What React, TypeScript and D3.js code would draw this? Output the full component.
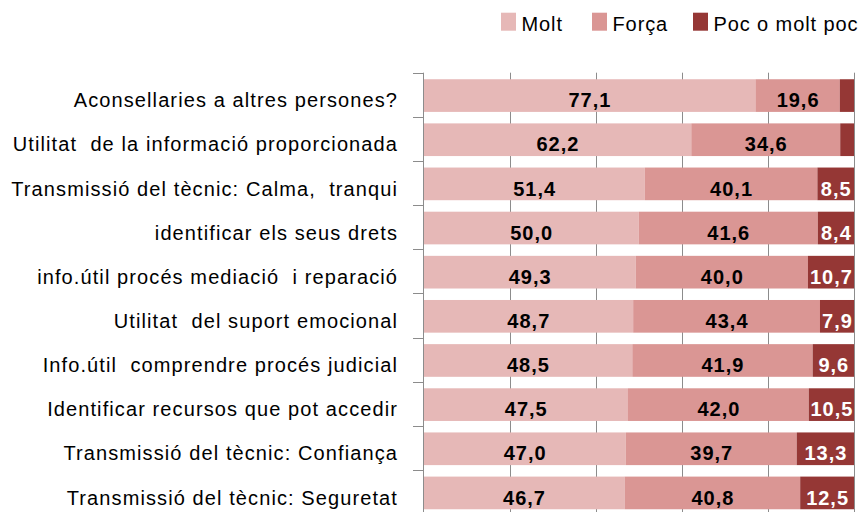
import React from "react";
import * as d3 from "d3";

const categories = [
  "Aconsellaries a altres persones?",
  "Utilitat  de la informació proporcionada",
  "Transmissió del tècnic: Calma,  tranqui",
  "identificar els seus drets",
  "info.útil procés mediació  i reparació",
  "Utilitat  del suport emocional",
  "Info.útil  comprendre procés judicial",
  "Identificar recursos que pot accedir",
  "Transmissió del tècnic: Confiança",
  "Transmissió del tècnic: Seguretat",
];
const molt = [77.1, 62.2, 51.4, 50.0, 49.3, 48.7, 48.5, 47.5, 47.0, 46.7];
const forca = [19.6, 34.6, 40.1, 41.6, 40.0, 43.4, 41.9, 42.0, 39.7, 40.8];
const poc = [3.3, 3.2, 8.5, 8.4, 10.7, 7.9, 9.6, 10.5, 13.3, 12.5];
const seriesNames = ["Molt", "Força", "Poc o molt poc"];
const seriesColors = ["#E6B8B7", "#DA9694", "#953735"];
const labelColors = ["#000000", "#000000", "#FFFFFF"];
const xTicks = [0, 20, 40, 60, 80, 100];

const W = 863;
const H = 512;
const FONT = "'Liberation Sans', Arial, sans-serif";

export default function App() {
  const x = d3.scaleLinear().domain([0, 100]).range([423.5, 854]);
  const step = 44.15;
  const top = 72.7;
  const y = d3
    .scaleBand<string>()
    .domain(categories)
    .range([top + 0.8, top + 0.8 + step * categories.length])
    .paddingInner(0.26)
    .paddingOuter(0.13);

  const series = [molt, forca, poc];
  const stackData = categories.map((c, i) => ({ cat: c, s0: molt[i], s1: forca[i], s2: poc[i] }));
  const stacked = d3.stack<any>().keys(["s0", "s1", "s2"])(stackData);
  const fmt = (v: number) => d3.format(".1f")(v).replace(".", ",");
  const bottom = top + step * categories.length;
  const boundaries = d3.range(categories.length + 1).map((i) => top + i * step);

  const legendX = [501, 592, 693];

  return (
    <svg
      width={W}
      height={H}
      style={{ position: "absolute", left: 0, top: 0, background: "#fff" }}
      fontFamily={FONT}
    >
      {/* gridlines */}
      {xTicks.slice(1).map((t) => (
        <line key={t} x1={Math.round(x(t)) + 0.5} x2={Math.round(x(t)) + 0.5} y1={top} y2={bottom} stroke="#8c8c8c" strokeWidth={1} />
      ))}
      {/* bars */}
      {stacked.map((layer, si) =>
        layer.map((d, i) => (
          <rect
            key={si + "-" + i}
            x={x(d[0])}
            width={x(d[1]) - x(d[0])}
            y={y(categories[i])}
            height={y.bandwidth()}
            fill={seriesColors[si]}
          />
        ))
      )}
      {/* value labels */}
      {stacked.map((layer, si) =>
        layer.map((d, i) => {
          const v = series[si][i];
          if (v < 5) return null;
          return (
            <text
              key={"l" + si + "-" + i}
              x={(x(d[0]) + x(d[1])) / 2 + 0.5}
              y={top + i * step + 34.5}
              textAnchor="middle"
              fontSize={20}
              fontWeight="bold"
              letterSpacing={1}
              fill={labelColors[si]}
            >
              {fmt(v)}
            </text>
          );
        })
      )}
      {/* left axis */}
      <line x1={423.5} x2={423.5} y1={top} y2={bottom} stroke="#8c8c8c" />
      {boundaries.map((b, i) => (
        <line key={"t" + i} x1={413} x2={423.5} y1={Math.round(b) + 0.5} y2={Math.round(b) + 0.5} stroke="#8c8c8c" />
      ))}
      {/* category labels */}
      {categories.map((c, i) => (
        <text
          key={"c" + i}
          x={398}
          y={top + i * step + 34.5}
          textAnchor="end"
          fontSize={20}
          letterSpacing={1.1}
          fill="#000"
          style={{ whiteSpace: "pre" }}
        >
          {c}
        </text>
      ))}
      {/* legend */}
      {seriesNames.map((n, i) => (
        <g key={"lg" + i}>
          <rect x={legendX[i]} y={12.7} width={15} height={18} fill={seriesColors[i]} />
          <text x={legendX[i] + 20.5} y={30.5} fontSize={20} letterSpacing={0.9} fill="#000">
            {n}
          </text>
        </g>
      ))}
    </svg>
  );
}
